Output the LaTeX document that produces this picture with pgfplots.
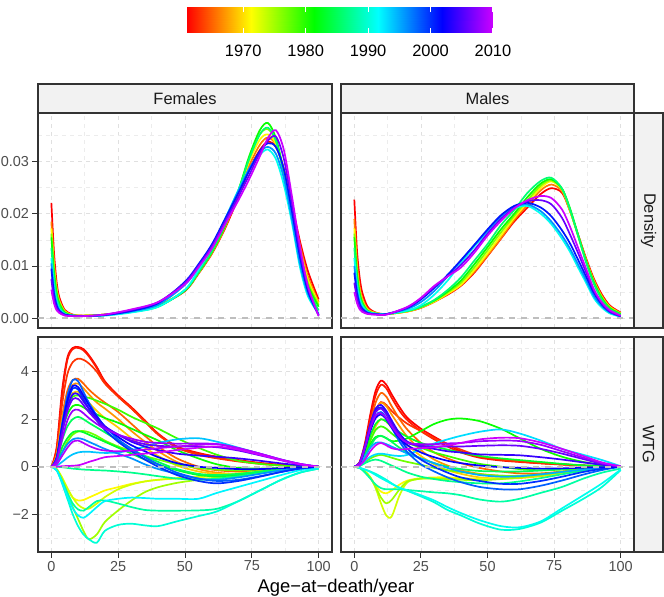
\documentclass[border=0pt]{standalone}
\usepackage{fontspec}
\setmainfont{Liberation Sans}
\usepackage{pgfplots}
\usepackage{pgfplotstable}
\pgfplotsset{compat=1.18}
\definecolor{panelc}{RGB}{51,51,51}
\definecolor{tickc}{RGB}{77,77,77}
\definecolor{gridmaj}{RGB}{224,224,224}
\definecolor{gridmin}{RGB}{236,236,236}
\definecolor{stripc}{RGB}{242,242,242}
\definecolor{zeroc}{RGB}{190,190,190}
\definecolor{c1961}{hsb}{0,1,1}
\definecolor{c1962}{hsb}{0.0163,1,1}
\definecolor{c1963}{hsb}{0.0327,1,1}
\definecolor{c1965}{hsb}{0.0653,1,1}
\definecolor{c1966}{hsb}{0.0816,1,1}
\definecolor{c1967}{hsb}{0.0980,1,1}
\definecolor{c1969}{hsb}{0.1306,1,1}
\definecolor{c1971}{hsb}{0.1633,1,1}
\definecolor{c1973}{hsb}{0.1959,1,1}
\definecolor{c1975}{hsb}{0.2286,1,1}
\definecolor{c1976}{hsb}{0.2449,1,1}
\definecolor{c1977}{hsb}{0.2612,1,1}
\definecolor{c1979}{hsb}{0.2939,1,1}
\definecolor{c1981}{hsb}{0.3265,1,1}
\definecolor{c1983}{hsb}{0.3592,1,1}
\definecolor{c1985}{hsb}{0.3918,1,1}
\definecolor{c1986}{hsb}{0.4082,1,1}
\definecolor{c1987}{hsb}{0.4245,1,1}
\definecolor{c1988}{hsb}{0.4408,1,1}
\definecolor{c1990}{hsb}{0.4735,1,1}
\definecolor{c1991}{hsb}{0.4898,1,1}
\definecolor{c1992}{hsb}{0.5061,1,1}
\definecolor{c1993}{hsb}{0.5224,1,1}
\definecolor{c1994}{hsb}{0.5388,1,1}
\definecolor{c1995}{hsb}{0.5551,1,1}
\definecolor{c1996}{hsb}{0.5714,1,1}
\definecolor{c1998}{hsb}{0.6041,1,1}
\definecolor{c2000}{hsb}{0.6367,1,1}
\definecolor{c2001}{hsb}{0.6531,1,1}
\definecolor{c2002}{hsb}{0.6694,1,1}
\definecolor{c2004}{hsb}{0.7020,1,1}
\definecolor{c2006}{hsb}{0.7347,1,1}
\definecolor{c2008}{hsb}{0.7673,1,1}
\definecolor{c2009}{hsb}{0.7837,1,1}
\definecolor{c2010}{hsb}{0.8,1,1}

% Female density
\pgfplotstableread{
x y1961 y1966 y1971 y1976 y1981 y1986 y1991 y1996 y2001 y2006 y2010
0 0.0221 0.0185 0.0172 0.0162 0.0155 0.0135 0.0115 0.0105 0.0095 0.0075 0.0055
1 0.0125 0.0105 0.0098 0.0092 0.0088 0.0075 0.0060 0.0053 0.0046 0.0037 0.0028
2 0.0068 0.0058 0.0054 0.0050 0.0048 0.0040 0.0032 0.0028 0.0024 0.0019 0.0015
3 0.0040 0.0034 0.0032 0.0030 0.0028 0.0023 0.0018 0.0016 0.0014 0.0012 0.0010
5 0.0016 0.0014 0.0013 0.0012 0.0011 0.0009 0.0008 0.0007 0.0007 0.0006 0.0005
8 0.0007 0.0006 0.0006 0.0006 0.0005 0.0005 0.0005 0.0005 0.0005 0.0004 0.0004
12 0.0005 0.0005 0.0005 0.0005 0.0004 0.0004 0.0004 0.0004 0.0004 0.0004 0.0004
20 0.0007 0.0007 0.0007 0.0007 0.0006 0.0006 0.0005 0.0006 0.0006 0.0007 0.0007
30 0.0013 0.0013 0.0013 0.0013 0.0012 0.0012 0.0011 0.0013 0.0014 0.0016 0.0017
40 0.0024 0.0024 0.0024 0.0023 0.0023 0.0022 0.0022 0.0026 0.0029 0.0031 0.0031
50 0.0052 0.0053 0.0054 0.0054 0.0053 0.0054 0.0055 0.0064 0.0070 0.0068 0.0065
55 0.0085 0.0086 0.0087 0.0087 0.0087 0.0088 0.0092 0.0098 0.0103 0.0100 0.0097
60 0.0123 0.0124 0.0126 0.0126 0.0126 0.0128 0.0136 0.0139 0.0141 0.0137 0.0133
65 0.0172 0.0174 0.0177 0.0177 0.0177 0.0180 0.0190 0.0190 0.0190 0.0185 0.0180
70 0.0232 0.0236 0.0242 0.0244 0.0245 0.0245 0.0246 0.0244 0.0240 0.0233 0.0226
74 0.0285 0.0292 0.0300 0.0305 0.0310 0.0305 0.0285 0.0286 0.0282 0.0274 0.0266
78 0.0322 0.0332 0.0342 0.0352 0.0360 0.0352 0.0313 0.0318 0.0320 0.0317 0.0310
81 0.0338 0.0346 0.0352 0.0362 0.0374 0.0365 0.0323 0.0328 0.0335 0.0340 0.0345
84 0.0328 0.0332 0.0334 0.0340 0.0345 0.0340 0.0305 0.0315 0.0328 0.0348 0.0360
87 0.0286 0.0284 0.0282 0.0280 0.0280 0.0275 0.0255 0.0268 0.0285 0.0305 0.0322
90 0.0218 0.0212 0.0207 0.0202 0.0198 0.0195 0.0183 0.0190 0.0205 0.0220 0.0234
93 0.0148 0.0140 0.0133 0.0126 0.0120 0.0115 0.0098 0.0105 0.0118 0.0128 0.0138
96 0.0090 0.0080 0.0074 0.0068 0.0063 0.0058 0.0042 0.0047 0.0052 0.0058 0.0062
100 0.0036 0.0031 0.0028 0.0025 0.0022 0.0015 0.0009 0.0007 0.0006 0.0005 0.0004
}\FD

% Male density
\pgfplotstableread{
x y1961 y1966 y1971 y1976 y1981 y1986 y1991 y1996 y2001 y2006 y2010
0 0.0227 0.0190 0.0172 0.0162 0.0155 0.0135 0.0115 0.0100 0.0087 0.0068 0.0050
1 0.0130 0.0105 0.0095 0.0090 0.0085 0.0074 0.0063 0.0055 0.0048 0.0038 0.0029
2 0.0078 0.0060 0.0054 0.0051 0.0048 0.0042 0.0036 0.0031 0.0027 0.0022 0.0017
3 0.0049 0.0038 0.0034 0.0032 0.0030 0.0027 0.0023 0.0020 0.0018 0.0015 0.0012
5 0.0022 0.0018 0.0016 0.0015 0.0014 0.0013 0.0012 0.0011 0.0010 0.0009 0.0008
8 0.0011 0.0010 0.0010 0.0009 0.0009 0.0009 0.0009 0.0008 0.0008 0.0007 0.0007
12 0.0008 0.0008 0.0008 0.0008 0.0008 0.0008 0.0008 0.0008 0.0008 0.0007 0.0007
20 0.0013 0.0013 0.0013 0.0014 0.0014 0.0014 0.0015 0.0018 0.0020 0.0021 0.0022
25 0.0020 0.0020 0.0021 0.0021 0.0022 0.0022 0.0025 0.0031 0.0036 0.0038 0.0039
30 0.0032 0.0031 0.0032 0.0033 0.0034 0.0035 0.0045 0.0052 0.0058 0.0060 0.0062
35 0.0045 0.0046 0.0047 0.0049 0.0051 0.0054 0.0072 0.0080 0.0083 0.0080 0.0080
40 0.0062 0.0063 0.0064 0.0068 0.0072 0.0078 0.0105 0.0110 0.0111 0.0102 0.0097
45 0.0087 0.0089 0.0092 0.0097 0.0103 0.0110 0.0137 0.0140 0.0140 0.0130 0.0125
50 0.0119 0.0120 0.0124 0.0130 0.0136 0.0142 0.0165 0.0168 0.0170 0.0162 0.0158
55 0.0152 0.0153 0.0158 0.0164 0.0170 0.0178 0.0192 0.0195 0.0197 0.0190 0.0186
60 0.0185 0.0188 0.0192 0.0196 0.0200 0.0207 0.0210 0.0213 0.0215 0.0211 0.0210
65 0.0212 0.0217 0.0222 0.0226 0.0232 0.0240 0.0215 0.0218 0.0221 0.0224 0.0226
70 0.0238 0.0245 0.0250 0.0254 0.0258 0.0263 0.0200 0.0205 0.0212 0.0226 0.0234
74 0.0249 0.0256 0.0262 0.0264 0.0266 0.0269 0.0180 0.0185 0.0195 0.0218 0.0230
78 0.0240 0.0243 0.0246 0.0247 0.0248 0.0248 0.0152 0.0158 0.0168 0.0192 0.0208
81 0.0205 0.0205 0.0206 0.0207 0.0210 0.0208 0.0127 0.0133 0.0143 0.0160 0.0175
84 0.0160 0.0160 0.0158 0.0158 0.0160 0.0158 0.0097 0.0103 0.0112 0.0125 0.0135
87 0.0115 0.0113 0.0110 0.0110 0.0110 0.0107 0.0068 0.0073 0.0080 0.0088 0.0095
90 0.0075 0.0072 0.0070 0.0069 0.0068 0.0065 0.0038 0.0042 0.0048 0.0052 0.0055
93 0.0045 0.0042 0.0040 0.0039 0.0038 0.0035 0.0020 0.0023 0.0026 0.0028 0.0030
96 0.0024 0.0022 0.0021 0.0020 0.0019 0.0017 0.0009 0.0011 0.0012 0.0013 0.0015
100 0.0011 0.0010 0.0009 0.0009 0.0008 0.0007 0.0003 0.0003 0.0004 0.0004 0.0005
}\MD

% Female WTG (one row per year)
\pgfplotstableread{
yr 0 2 4 6 8 10 12 14 17 20 25 30 35 40 47 55 62 70 78 86 93 100
1961 0 0.83 3.2 4.6 5.0 5.04 4.95 4.7 4.2 3.6 3.0 2.5 1.95 1.39 0.85 0.58 0.42 0.28 0.16 0.08 0.03 0
1962 0 0.75 3.0 4.5 4.95 5.0 4.9 4.65 4.15 3.55 2.95 2.45 1.9 1.35 0.82 0.55 0.40 0.26 0.15 0.07 0.03 0
1963 0 0.6 2.6 3.9 4.4 4.55 4.5 4.35 4.0 3.5 2.95 2.45 1.9 1.35 0.8 0.5 0.35 0.22 0.12 0.05 0.02 0
1965 0 0.5 2.1 3.2 3.65 3.7 3.5 3.25 2.95 2.7 2.3 1.8 1.3 0.85 0.35 0.0 -0.15 -0.2 -0.15 -0.08 -0.03 0
1967 0 0.5 2.0 3.0 3.45 3.5 3.3 3.05 2.7 2.45 2.0 1.5 1.05 0.65 0.2 -0.1 -0.25 -0.3 -0.22 -0.12 -0.05 0
1969 0 0.45 1.8 2.7 3.1 3.15 2.95 2.7 2.35 2.05 1.65 1.2 0.8 0.45 0.05 -0.2 -0.3 -0.3 -0.22 -0.12 -0.05 0
1971 0 -0.1 -0.5 -0.95 -1.3 -1.42 -1.4 -1.3 -1.15 -1.0 -0.86 -0.72 -0.62 -0.55 -0.5 -0.45 -0.38 -0.3 -0.2 -0.12 -0.05 0
1973 0 -0.1 -0.45 -0.9 -1.3 -1.6 -1.75 -1.77 -1.55 -1.28 -0.95 -0.75 -0.62 -0.55 -0.48 -0.42 -0.35 -0.28 -0.2 -0.12 -0.05 0
1975 0 -0.12 -0.55 -1.1 -1.7 -2.2 -2.7 -3.05 -2.85 -2.33 -1.84 -1.42 -1.07 -0.86 -0.68 -0.55 -0.45 -0.35 -0.25 -0.14 -0.06 0
1977 0 0.15 0.6 1.05 1.35 1.48 1.5 1.45 1.3 1.1 0.85 0.65 0.45 0.3 0.1 -0.05 -0.12 -0.15 -0.12 -0.07 -0.03 0
1979 0 0.4 1.7 2.55 2.95 3.0 2.95 2.9 2.78 2.65 2.4 2.1 1.85 1.6 1.2 0.8 0.5 0.25 0.12 0.05 0.02 0
1981 0 0.35 1.5 2.2 2.55 2.6 2.5 2.35 2.2 2.05 1.85 1.6 1.35 1.1 0.7 0.35 0.1 -0.05 -0.08 -0.05 -0.02 0
1983 0 0.2 0.8 1.2 1.45 1.5 1.45 1.35 1.2 1.05 0.8 0.55 0.3 0.1 -0.15 -0.35 -0.4 -0.35 -0.25 -0.12 -0.05 0
1985 0 0.25 1.1 1.7 2.0 2.1 2.0 1.85 1.65 1.45 1.1 0.75 0.45 0.2 -0.1 -0.3 -0.35 -0.3 -0.2 -0.1 -0.04 0
1987 0 0 -0.02 -0.05 -0.08 -0.1 -0.12 -0.13 -0.15 -0.16 -0.2 -0.25 -0.32 -0.4 -0.5 -0.55 -0.5 -0.4 -0.28 -0.15 -0.06 0
1988 0 -0.15 -0.6 -1.1 -1.55 -1.8 -1.85 -1.7 -1.45 -1.42 -1.55 -1.7 -1.82 -1.85 -1.85 -1.84 -1.77 -1.45 -1.0 -0.55 -0.25 -0.08
1990 0 -0.15 -0.7 -1.35 -2.0 -2.5 -2.85 -3.05 -3.2 -2.7 -2.45 -2.4 -2.47 -2.5 -2.3 -2.08 -1.88 -1.45 -1.0 -0.55 -0.25 -0.08
1992 0 -0.15 -0.65 -1.25 -1.75 -2.05 -2.15 -2.0 -1.7 -1.45 -1.35 -1.3 -1.32 -1.35 -1.35 -1.35 -1.1 -0.85 -0.6 -0.35 -0.15 -0.05
1994 0 0.05 0.2 0.38 0.52 0.6 0.63 0.63 0.6 0.58 0.6 0.7 0.85 1.0 1.15 1.2 1.05 0.8 0.55 0.3 0.12 0
1996 0 0.15 0.6 0.95 1.15 1.2 1.15 1.05 0.9 0.75 0.55 0.35 0.1 -0.1 -0.3 -0.5 -0.55 -0.45 -0.3 -0.15 -0.06 0
1998 0 0.4 1.8 3.0 3.65 3.6 3.15 2.7 2.15 1.7 1.15 0.75 0.4 0.1 -0.25 -0.5 -0.6 -0.55 -0.4 -0.22 -0.08 0
2000 0 0.35 1.6 2.7 3.3 3.25 2.85 2.45 1.95 1.55 1.05 0.65 0.3 0.0 -0.35 -0.6 -0.7 -0.6 -0.42 -0.22 -0.08 0
2002 0 0.38 1.7 2.8 3.4 3.35 3.0 2.6 2.1 1.7 1.25 0.9 0.65 0.4 0.15 0.0 -0.05 -0.1 -0.1 -0.06 -0.02 0
2004 0 0.33 1.5 2.5 3.05 3.05 2.75 2.45 2.05 1.7 1.35 1.05 0.85 0.7 0.55 0.47 0.42 0.35 0.25 0.14 0.06 0
2006 0 0.3 1.4 2.35 2.85 2.85 2.6 2.3 1.95 1.65 1.35 1.1 0.95 0.88 0.85 0.85 0.82 0.68 0.48 0.27 0.1 0
2008 0 0.25 1.15 1.95 2.35 2.4 2.25 2.05 1.8 1.6 1.35 1.18 1.05 1.0 0.97 0.98 0.95 0.78 0.55 0.3 0.12 0
2009 0 0.1 0.45 0.8 1.05 1.1 1.0 0.88 0.75 0.68 0.65 0.68 0.72 0.78 0.85 0.92 0.95 0.78 0.55 0.3 0.12 0
2010 0 0 0.02 0.03 0.04 0.06 0.12 0.2 0.3 0.4 0.45 0.5 0.55 0.6 0.7 0.8 0.85 0.72 0.5 0.28 0.1 0
}\FWraw
\pgfplotstabletranspose[colnames from=yr,input colnames to=x]{\FW}{\FWraw}

% Male WTG (one row per year)
\pgfplotstableread{
yr 0 2 4 6 8 10 12 14 17 20 25 30 35 40 47 55 62 70 78 86 93 100
1961 0 0.2 1.0 2.2 3.2 3.62 3.45 3.05 2.5 2.05 1.6 1.26 0.95 0.65 0.42 0.3 0.22 0.15 0.1 0.05 0.02 0
1962 0 0.18 0.9 2.0 3.0 3.45 3.3 2.9 2.35 1.95 1.5 1.15 0.85 0.6 0.38 0.26 0.2 0.14 0.09 0.05 0.02 0
1963 0 0.15 0.75 1.6 2.35 2.72 2.6 2.35 2.05 1.8 1.5 1.2 0.95 0.72 0.45 0.3 0.22 0.15 0.1 0.05 0.02 0
1965 0 0.17 0.85 1.8 2.7 3.1 2.95 2.55 2.0 1.55 1.0 0.6 0.35 0.15 -0.05 -0.2 -0.28 -0.28 -0.2 -0.1 -0.04 0
1967 0 0.15 0.75 1.6 2.35 2.7 2.55 2.2 1.7 1.25 0.7 0.3 0.05 -0.15 -0.3 -0.38 -0.4 -0.35 -0.25 -0.12 -0.05 0
1969 0 0.1 0.5 1.1 1.7 2.0 1.9 1.65 1.25 0.9 0.45 0.1 -0.15 -0.3 -0.45 -0.5 -0.48 -0.4 -0.28 -0.14 -0.05 0
1971 0 -0.05 -0.2 -0.45 -0.8 -1.05 -1.12 -1.0 -0.75 -0.58 -0.48 -0.45 -0.45 -0.48 -0.5 -0.48 -0.43 -0.35 -0.25 -0.13 -0.05 0
1973 0 -0.05 -0.2 -0.45 -0.9 -1.54 -2.05 -2.1 -1.2 -0.65 -0.5 -0.49 -0.5 -0.52 -0.55 -0.5 -0.45 -0.36 -0.25 -0.13 -0.05 0
1975 0 -0.05 -0.2 -0.45 -0.85 -1.3 -1.54 -1.4 -0.95 -0.62 -0.5 -0.5 -0.52 -0.55 -0.57 -0.52 -0.45 -0.35 -0.24 -0.12 -0.05 0
1977 0 0.05 0.2 0.35 0.45 0.5 0.45 0.38 0.28 0.2 0.08 -0.05 -0.15 -0.22 -0.32 -0.38 -0.38 -0.32 -0.22 -0.12 -0.05 0
1979 0 0.1 0.55 1.1 1.55 1.7 1.6 1.4 1.15 1.0 0.8 0.6 0.45 0.3 0.12 0.0 -0.1 -0.15 -0.12 -0.07 -0.03 0
1981 0 0.08 0.45 0.95 1.25 1.3 1.2 1.08 1.1 1.2 1.5 1.8 1.98 2.03 1.92 1.6 1.2 0.75 0.42 0.2 0.08 0
1983 0 0.12 0.65 1.3 1.8 2.0 1.9 1.7 1.45 1.25 1.0 0.85 0.72 0.6 0.45 0.35 0.28 0.2 0.12 0.06 0.02 0
1985 0 0.08 0.4 0.85 1.2 1.3 1.2 1.05 0.8 0.6 0.35 0.15 0.0 -0.1 -0.18 -0.2 -0.2 -0.16 -0.1 -0.05 -0.02 0
1987 0 0.03 0.15 0.25 0.3 0.25 0.15 0.05 -0.1 -0.25 -0.42 -0.52 -0.6 -0.65 -0.7 -0.7 -0.62 -0.48 -0.32 -0.17 -0.07 0
1988 0 -0.05 -0.25 -0.5 -0.75 -0.9 -0.95 -0.95 -0.95 -0.98 -1.03 -1.08 -1.12 -1.2 -1.38 -1.47 -1.35 -1.1 -0.85 -0.5 -0.25 -0.08
1990 0 -0.05 -0.12 -0.2 -0.3 -0.42 -0.55 -0.7 -0.9 -1.02 -1.25 -1.5 -1.82 -2.05 -2.39 -2.65 -2.62 -2.35 -1.85 -1.35 -0.85 -0.14
1991 0 -0.05 -0.12 -0.22 -0.35 -0.48 -0.6 -0.72 -0.88 -1.0 -1.2 -1.42 -1.7 -1.95 -2.25 -2.5 -2.55 -2.3 -1.75 -1.2 -0.7 -0.12
1993 0 0.05 0.25 0.42 0.52 0.55 0.52 0.48 0.45 0.5 0.75 0.98 1.15 1.3 1.47 1.57 1.4 1.1 0.75 0.5 0.28 0.02
1995 0 0.1 0.45 0.8 1.0 1.02 0.95 0.85 0.7 0.55 0.35 0.15 -0.05 -0.2 -0.35 -0.42 -0.4 -0.32 -0.22 -0.12 -0.05 0
1998 0 0.15 0.8 1.6 2.15 2.3 2.05 1.65 1.05 0.6 0.1 -0.2 -0.45 -0.65 -0.85 -0.95 -0.95 -0.8 -0.58 -0.33 -0.14 0
2000 0 0.15 0.85 1.7 2.35 2.5 2.25 1.85 1.2 0.75 0.3 0.0 -0.25 -0.45 -0.6 -0.72 -0.72 -0.6 -0.42 -0.22 -0.09 0
2002 0 0.14 0.75 1.5 2.05 2.2 2.0 1.65 1.2 0.9 0.6 0.4 0.25 0.15 0.05 -0.02 -0.05 -0.08 -0.07 -0.04 -0.02 0
2004 0 0.16 0.9 1.8 2.45 2.6 2.35 1.95 1.4 1.05 0.85 0.75 0.65 0.6 0.52 0.5 0.48 0.4 0.3 0.18 0.08 0
2006 0 0.15 0.85 1.7 2.3 2.45 2.2 1.8 1.3 1.0 0.88 0.85 0.85 0.85 0.88 0.9 0.88 0.75 0.55 0.32 0.12 0
2008 0 0.14 0.8 1.6 2.15 2.25 2.05 1.7 1.25 1.0 0.95 0.95 0.98 1.0 1.07 1.1 1.08 0.92 0.65 0.38 0.15 0
2010 0 0.05 0.3 0.65 0.9 1.0 0.9 0.78 0.72 0.75 0.78 0.82 0.9 1.0 1.15 1.22 1.2 1.02 0.75 0.45 0.18 0.02
}\MWraw
\pgfplotstabletranspose[colnames from=yr,input colnames to=x]{\MW}{\MWraw}

\pgfplotsset{
  panel/.style={
    scale only axis, anchor=south west, xmin=-5, xmax=105,
    xtick={0,25,50,75,100}, minor xtick={12.5,37.5,62.5,87.5},
    grid=both,
    major grid style={color=gridmaj, line width=0.8bp, dash pattern=on 4bp off 4bp},
    minor grid style={color=gridmin, line width=0.55bp, dash pattern=on 4bp off 4bp},
    tick pos=left, tick align=outside,
    major tick length=5.5bp, minor tick length=0bp,
    tick style={draw=panelc, line width=0.9bp},
    axis line style={draw=panelc, line width=1.1bp},
    tick label style={font=\fontsize{14.5}{16}\selectfont, text=tickc},
    scaled x ticks=false, scaled y ticks=false,
  },
  dens/.style={height=215bp, ymin=-0.00187, ymax=0.0393,
    ytick={0,0.01,0.02,0.03}, minor ytick={0.005,0.015,0.025,0.035}},
  wtg/.style={height=215bp, ymin=-3.59, ymax=5.46,
    ytick={-2,0,2,4}, minor ytick={-3,-1,1,3,5}},
  curve/.style={line width=1.7bp, smooth},
  zeroline/.style={draw=zeroc, line width=1.6bp, dash pattern=on 6bp off 6bp},
}

\begin{document}
\begin{tikzpicture}[x=1bp,y=1bp]
\path[use as bounding box] (0bp,0bp) rectangle (664bp,597bp);

% colour bar
\begin{axis}[at={(187bp,564bp)}, anchor=south west, scale only axis, width=306bp, height=26bp,
  view={0}{90}, xmin=1961, xmax=2010, ymin=0, ymax=1,
  axis line style={draw=none}, ytick=\empty, ztick=\empty,
  xtick={1970,1980,1990,2000,2010}, xticklabels={1970,1980,1990,2000,2010},
  major tick length=0pt, tick style={draw=none},
  xticklabel style={font=\fontsize{16.5}{18}\selectfont, text=black, yshift=-9bp},
  colormap={rb}{rgb(0cm)=(1,0,0) rgb(1cm)=(1,1,0) rgb(2cm)=(0,1,0) rgb(3cm)=(0,1,1) rgb(4cm)=(0,0,1) rgb(5cm)=(0.8,0,1)},
  point meta min=0, point meta max=5, clip=false]
\addplot3[surf, shader=interp, mesh/rows=2, mesh/cols=6, point meta=explicit] coordinates {
(1961,0,0) [0] (1971.2,0,0) [1] (1981.4,0,0) [2] (1991.6,0,0) [3] (2001.8,0,0) [4] (2010,0,0) [5]
(1961,1,0) [0] (1971.2,1,0) [1] (1981.4,1,0) [2] (1991.6,1,0) [3] (2001.8,1,0) [4] (2010,1,0) [5]
};
\pgfplotsinvokeforeach{1970,1980,1990,2000,2010}{
  \draw[white, line width=1bp] (axis cs:#1,0,0) -- (axis cs:#1,0.2,0);
  \draw[white, line width=1bp] (axis cs:#1,0.8,0) -- (axis cs:#1,1,0);
}
\end{axis}

% Females, density
\begin{axis}[panel, dens, at={(38bp,269bp)}, width=294bp,
  xticklabels={}, xtick style={draw=none},
  yticklabels={0.00,0.01,0.02,0.03}]
\pgfplotsinvokeforeach{1961,1966,1971,1976,1981,1986,1991,1996,2001,2006,2010}{
  \addplot[c#1, curve] table[x=x, y=y#1]{\FD};
}
\addplot[zeroline] coordinates {(-5,0) (105,0)};
\end{axis}

% Males, density
\begin{axis}[panel, dens, at={(341bp,269bp)}, width=293bp,
  xticklabels={}, yticklabels={}, tick style={draw=none}]
\pgfplotsinvokeforeach{1961,1966,1971,1976,1981,1986,1991,1996,2001,2006,2010}{
  \addplot[c#1, curve] table[x=x, y=y#1]{\MD};
}
\addplot[zeroline] coordinates {(-5,0) (105,0)};
\end{axis}

% Females, WTG
\begin{axis}[panel, wtg, at={(38bp,45bp)}, width=294bp,
  xticklabels={0,25,50,75,100}, yticklabels={−2,0,2,4}]
\pgfplotsinvokeforeach{1961,1962,1963,1965,1967,1969,1971,1973,1975,1977,1979,1981,1983,1985,1987,1988,1990,1992,1994,1996,1998,2000,2002,2004,2006,2008,2009,2010}{
  \addplot[c#1, curve] table[x=x, y=#1]{\FW};
}
\addplot[zeroline] coordinates {(-5,0) (105,0)};
\end{axis}

% Males, WTG
\begin{axis}[panel, wtg, at={(341bp,45bp)}, width=293bp,
  xticklabels={0,25,50,75,100}, yticklabels={}, ytick style={draw=none}]
\pgfplotsinvokeforeach{1961,1962,1963,1965,1967,1969,1971,1973,1975,1977,1979,1981,1983,1985,1987,1988,1990,1991,1993,1995,1998,2000,2002,2004,2006,2008,2010}{
  \addplot[c#1, curve] table[x=x, y=#1]{\MW};
}
\addplot[zeroline] coordinates {(-5,0) (105,0)};
\end{axis}

% strips
\draw[fill=stripc, draw=panelc, line width=1.1bp] (38bp,484bp) rectangle (332bp,513bp);
\draw[fill=stripc, draw=panelc, line width=1.1bp] (341bp,484bp) rectangle (634bp,513bp);
\draw[fill=stripc, draw=panelc, line width=1.1bp] (634bp,269bp) rectangle (663bp,484bp);
\draw[fill=stripc, draw=panelc, line width=1.1bp] (634bp,45bp) rectangle (663bp,260bp);
\node[font=\fontsize{16.5}{18}\selectfont, text={rgb,255:red,26;green,26;blue,26}] at (185bp,498.5bp) {Females};
\node[font=\fontsize{16.5}{18}\selectfont, text={rgb,255:red,26;green,26;blue,26}] at (487.5bp,498.5bp) {Males};
\node[font=\fontsize{16.5}{18}\selectfont, text={rgb,255:red,26;green,26;blue,26}, rotate=-90] at (648.5bp,376.5bp) {Density};
\node[font=\fontsize{16.5}{18}\selectfont, text={rgb,255:red,26;green,26;blue,26}, rotate=-90] at (648.5bp,152.5bp) {WTG};

\node[anchor=base, font=\fontsize{18.5}{20}\selectfont] at (336bp,5bp) {Age−at−death/year};
\end{tikzpicture}
\end{document}
